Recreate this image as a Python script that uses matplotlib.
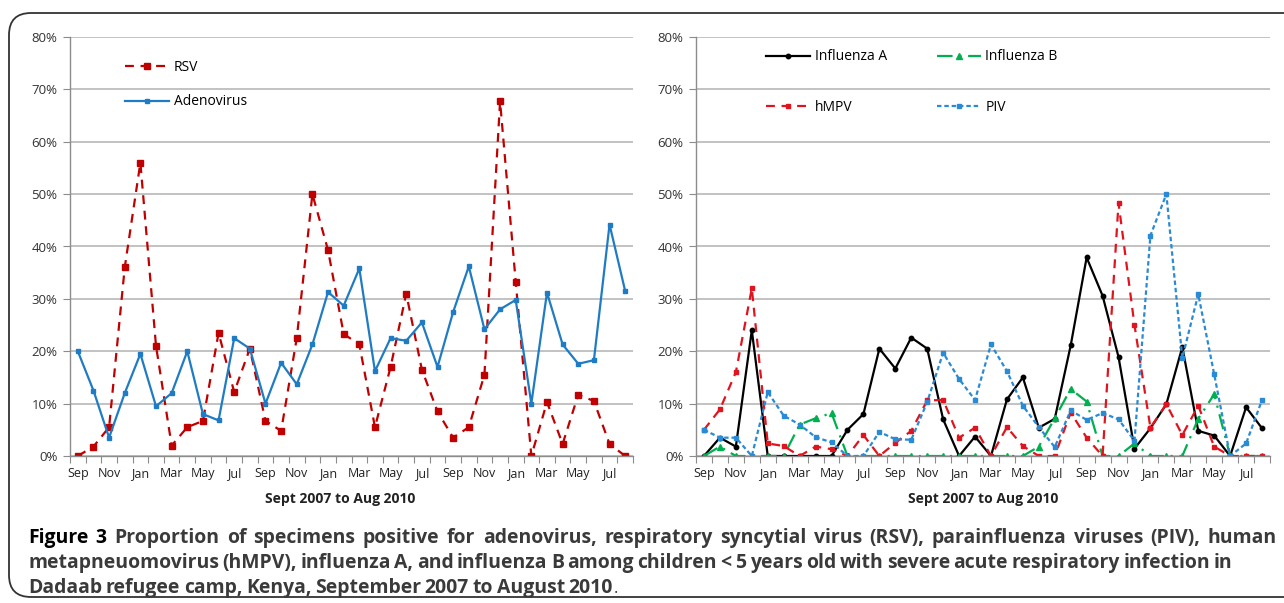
import matplotlib.pyplot as plt
from matplotlib.patches import FancyBboxPatch
from matplotlib.transforms import IdentityTransform
from matplotlib.ticker import FuncFormatter

# Sept 2007 .. Aug 2010, monthly, values in percent
months = ['Sep', 'Oct', 'Nov', 'Dec', 'Jan', 'Feb', 'Mar', 'Apr', 'May', 'Jun', 'Jul', 'Aug'] * 3

rsv = [0, 1.8, 5.5, 36, 56, 21, 2, 5.5, 6.7, 23.5, 12.2, 20.5,
       6.7, 4.8, 22.5, 50, 39.3, 23.3, 21.3, 5.5, 17, 31, 16.5, 8.5,
       3.5, 5.5, 15.5, 67.7, 33.3, 0, 10.3, 2.3, 11.7, 10.5, 2.3, 0]
adeno = [20, 12.5, 3.5, 12, 19.5, 9.5, 12, 20, 8, 6.8, 22.5, 20.5,
         10, 17.8, 13.7, 21.3, 31.3, 28.7, 35.8, 16.2, 22.5, 22, 25.5, 17,
         27.5, 36.2, 24.2, 28, 29.8, 10, 31.2, 21.3, 17.6, 18.3, 44.2, 31.5]

flu_a = [0, 3.5, 1.8, 24, 0, 0, 0, 0, 0, 5, 8, 20.5,
         16.7, 22.6, 20.5, 7, 0, 3.7, 0, 10.8, 15, 5.4, 7.1, 21.1,
         37.9, 30.6, 18.9, 1.4, 5.3, 9.9, 20.8, 4.8, 3.9, 0, 9.3, 5.3]
flu_b = [0, 1.8, 0, 0, 0, 0, 6, 7.2, 8.2, 0, 0, 0,
         0, 0, 0, 0, 0, 0, 0, 0, 0, 1.8, 7.2, 12.8,
         10.4, 0, 0, 2.4, 0, 0, 0, 7.1, 11.8, 0, 0, 0]
hmpv = [5, 8.9, 16, 32, 2.4, 1.9, 0, 1.8, 1.3, 0, 4, 0,
        2.5, 4.8, 10.6, 10.7, 3.5, 5.4, 0, 5.5, 1.9, 0, 0, 8.3,
        3.5, 0, 48.3, 25, 5.4, 9.9, 4, 9.6, 1.8, 0, 0, 0]
piv = [5, 3.5, 3.5, 0, 12.2, 7.7, 6, 3.6, 2.6, 0, 0, 4.6,
       3.2, 3.1, 10.3, 19.7, 14.7, 10.7, 21.3, 16.2, 9.6, 5.5, 1.7, 8.7,
       6.9, 8.2, 7, 2.9, 42.1, 50, 18.7, 30.9, 15.6, 0, 2.4, 10.7]

W, H = 1284, 603
fig = plt.figure(figsize=(W / 100, H / 100), dpi=100)
plt.rcParams['font.family'] = ['Open Sans', 'DejaVu Sans']

# rounded frame around the whole figure (pixel coords, runs off the right edge)
frame = FancyBboxPatch((9, H - 597), 1500, 597 - 13,
                       boxstyle='round,pad=0,rounding_size=22',
                       transform=IdentityTransform(), fill=False,
                       ec='#333333', lw=1.3)
fig.patches.append(frame)

x = list(range(len(months)))


def style_axes(ax):
    ax.set_xlim(-0.5, len(months) - 0.5)
    ax.set_ylim(0, 80)
    ax.set_yticks(range(0, 81, 10))
    ax.yaxis.set_major_formatter(FuncFormatter(lambda v, p: '%d%%' % v))
    ax.grid(axis='y', color='#bdbdbd', lw=1.3)
    ax.set_axisbelow(True)
    for s in ['top', 'right']:
        ax.spines[s].set_visible(False)
    for s in ['left', 'bottom']:
        ax.spines[s].set_color('#8c8c8c')
        ax.spines[s].set_linewidth(1.0)
    ax.tick_params(axis='y', length=5, color='#8c8c8c', labelsize=9.5,
                   labelcolor='#333333', pad=4)
    # boundary ticks between months, labels on every other month centre
    ax.set_xticks([i - 0.5 for i in range(len(months) + 1)])
    ax.set_xticklabels([])
    ax.tick_params(axis='x', which='major', length=5, color='#8c8c8c')
    ax.set_xticks(x[::2], minor=True)
    ax.set_xticklabels(months[::2], minor=True)
    ax.tick_params(axis='x', which='minor', length=0, labelsize=9,
                   labelcolor='#222222', pad=8)


ax1 = fig.add_axes([70 / W, 1 - 456 / H, (633 - 70) / W, (456 - 37) / H])
ax2 = fig.add_axes([696 / W, 1 - 456 / H, (1270 - 696) / W, (456 - 37) / H])
style_axes(ax1)
style_axes(ax2)

ax1.plot(x, rsv, color='#c00000', ls=(0, (4, 3)), lw=1.6, marker='s', ms=4, label='RSV')
ax1.plot(x, adeno, color='#1f7cc4', lw=1.6, marker='s', ms=3, label='Adenovirus')
ax1.legend(loc='upper left', bbox_to_anchor=(0.075, 0.975), frameon=False,
           fontsize=10, handlelength=3.2, labelspacing=1.4, handletextpad=0.35)

la, = ax2.plot(x, flu_a, color='black', lw=1.6, marker='o', ms=3.2, label='Influenza A')
lb, = ax2.plot(x, flu_b, color='#00b050', ls=(0, (7, 3, 1, 3)), lw=1.6, marker='^', ms=4,
               label='Influenza B')
lh, = ax2.plot(x, hmpv, color='#e0141e', ls=(0, (4, 3)), lw=1.6, marker='s', ms=3.5,
               label='hMPV')
lp, = ax2.plot(x, piv, color='#2a8ad4', ls=(0, (2, 1.3)), lw=1.6, marker='s', ms=3,
               label='PIV')
ax2.legend(handles=[la, lh, lb, lp], loc='upper left', bbox_to_anchor=(0.1, 1.0),
           frameon=False, ncol=2, fontsize=10, handlelength=3.2, labelspacing=2.55,
           handletextpad=0.3, columnspacing=3.6)

for cx in (340, 983):
    fig.text(cx / W, 1 - 499 / H, 'Sept 2007 to Aug 2010', ha='center', va='center',
             fontsize=10, fontweight='bold', color='#222222')

# caption: three lines, each spread out to its measured width
cap_lines = [
    'Figure 3 Proportion of specimens positive for adenovirus, respiratory syncytial virus (RSV), parainfluenza viruses (PIV), human',
    'metapneuomovirus (hMPV), influenza A, and influenza B among children < 5 years old with severe acute respiratory infection in',
    'Dadaab refugee camp, Kenya, September 2007 to August 2010',
]
cap_right = [1277, 1232, 613]
cap_base = [543, 568, 593]
cap_left = 28
cap_col = '#3a3a3a'

fig.canvas.draw()
r = fig.canvas.get_renderer()


def text_width(s, size, weight='bold'):
    t = fig.text(0, 0, s, fontsize=size, fontweight=weight)
    w = t.get_window_extent(r).width
    t.remove()
    return w


# one font size for all lines: geometric mean of the per-line fits
prod = 1.0
for line, x1 in zip(cap_lines, cap_right):
    prod *= (x1 - cap_left) / text_width(line, 12)
cap_size = 12 * prod ** (1 / 3)

for li, (line, x1, yb) in enumerate(zip(cap_lines, cap_right, cap_base)):
    words = line.split(' ')
    cols = ['black' if (li == 0 and k < 2) else cap_col for k in range(len(words))]
    widths = [text_width(wd, cap_size) for wd in words]
    gap = (x1 - cap_left - sum(widths)) / (len(words) - 1)
    xp = cap_left
    for wd, c, w in zip(words, cols, widths):
        fig.text(xp / W, 1 - yb / H, wd, fontsize=cap_size, fontweight='bold',
                 color=c, va='baseline')
        xp += w + gap
    if li == 2:
        fig.text((xp - gap + 1) / W, 1 - yb / H, '.', fontsize=cap_size - 2,
                 color=cap_col, va='baseline')

fig.savefig('out.png', dpi=100)
